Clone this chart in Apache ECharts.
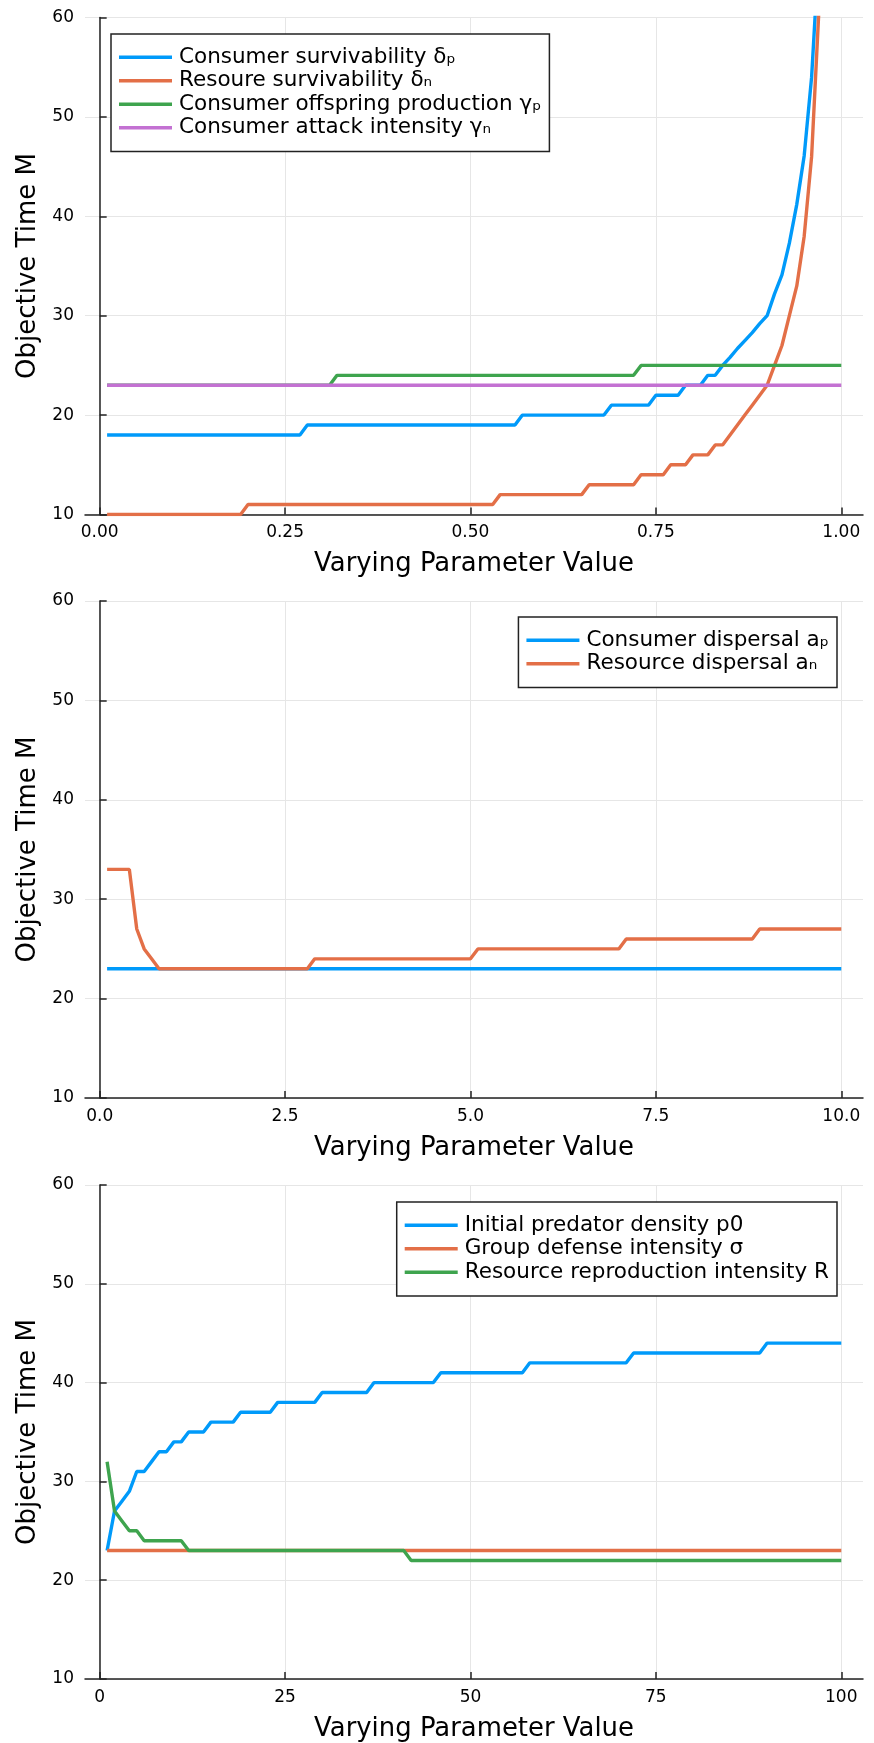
<!DOCTYPE html>
<html>
<head>
<meta charset="utf-8">
<title>Objective time vs varying parameter</title>
<script src="https://cdn.jsdelivr.net/npm/echarts@6/dist/echarts.min.js"></script>
<style>
  html, body { margin: 0; padding: 0; background: #fff; }
  #chart { width: 874px; height: 1743px; }
</style>
</head>
<body>
<div id="chart"></div>
<script>
// ---- panel 1: parameter in [0.01, 1] ----
var p1X = [
  0.01, 0.02, 0.03, 0.04, 0.05, 0.06, 0.07, 0.08, 0.09, 0.10,
  0.11, 0.12, 0.13, 0.14, 0.15, 0.16, 0.17, 0.18, 0.19, 0.20,
  0.21, 0.22, 0.23, 0.24, 0.25, 0.26, 0.27, 0.28, 0.29, 0.30,
  0.31, 0.32, 0.33, 0.34, 0.35, 0.36, 0.37, 0.38, 0.39, 0.40,
  0.41, 0.42, 0.43, 0.44, 0.45, 0.46, 0.47, 0.48, 0.49, 0.50,
  0.51, 0.52, 0.53, 0.54, 0.55, 0.56, 0.57, 0.58, 0.59, 0.60,
  0.61, 0.62, 0.63, 0.64, 0.65, 0.66, 0.67, 0.68, 0.69, 0.70,
  0.71, 0.72, 0.73, 0.74, 0.75, 0.76, 0.77, 0.78, 0.79, 0.80,
  0.81, 0.82, 0.83, 0.84, 0.85, 0.86, 0.87, 0.88, 0.89, 0.90,
  0.91, 0.92, 0.93, 0.94, 0.95, 0.96, 0.97, 0.98, 0.99, 1.00
];
var deltaP = [
  18, 18, 18, 18, 18, 18, 18, 18, 18, 18,
  18, 18, 18, 18, 18, 18, 18, 18, 18, 18,
  18, 18, 18, 18, 18, 18, 18, 19, 19, 19,
  19, 19, 19, 19, 19, 19, 19, 19, 19, 19,
  19, 19, 19, 19, 19, 19, 19, 19, 19, 19,
  19, 19, 19, 19, 19, 19, 20, 20, 20, 20,
  20, 20, 20, 20, 20, 20, 20, 20, 21, 21,
  21, 21, 21, 21, 22, 22, 22, 22, 23, 23,
  23, 24, 24, 25, 25.8, 26.7, 27.5, 28.3, 29.2, 30,
  32.2, 34.1, 37.3, 41.2, 46.1, 54, 67, 90, 140, 300
];
var deltaN = [
  10, 10, 10, 10, 10, 10, 10, 10, 10, 10,
  10, 10, 10, 10, 10, 10, 10, 10, 10, 11,
  11, 11, 11, 11, 11, 11, 11, 11, 11, 11,
  11, 11, 11, 11, 11, 11, 11, 11, 11, 11,
  11, 11, 11, 11, 11, 11, 11, 11, 11, 11,
  11, 11, 11, 12, 12, 12, 12, 12, 12, 12,
  12, 12, 12, 12, 12, 13, 13, 13, 13, 13,
  13, 13, 14, 14, 14, 14, 15, 15, 15, 16,
  16, 16, 17, 17, 18, 19, 20, 21, 22, 23,
  25, 27, 30, 33, 38, 46, 61, 85, 130, 250
];
var gammaP = [
  23, 23, 23, 23, 23, 23, 23, 23, 23, 23,
  23, 23, 23, 23, 23, 23, 23, 23, 23, 23,
  23, 23, 23, 23, 23, 23, 23, 23, 23, 23,
  23, 24, 24, 24, 24, 24, 24, 24, 24, 24,
  24, 24, 24, 24, 24, 24, 24, 24, 24, 24,
  24, 24, 24, 24, 24, 24, 24, 24, 24, 24,
  24, 24, 24, 24, 24, 24, 24, 24, 24, 24,
  24, 24, 25, 25, 25, 25, 25, 25, 25, 25,
  25, 25, 25, 25, 25, 25, 25, 25, 25, 25,
  25, 25, 25, 25, 25, 25, 25, 25, 25, 25
];
var gammaN = [
  23, 23, 23, 23, 23, 23, 23, 23, 23, 23,
  23, 23, 23, 23, 23, 23, 23, 23, 23, 23,
  23, 23, 23, 23, 23, 23, 23, 23, 23, 23,
  23, 23, 23, 23, 23, 23, 23, 23, 23, 23,
  23, 23, 23, 23, 23, 23, 23, 23, 23, 23,
  23, 23, 23, 23, 23, 23, 23, 23, 23, 23,
  23, 23, 23, 23, 23, 23, 23, 23, 23, 23,
  23, 23, 23, 23, 23, 23, 23, 23, 23, 23,
  23, 23, 23, 23, 23, 23, 23, 23, 23, 23,
  23, 23, 23, 23, 23, 23, 23, 23, 23, 23
];
var p1Ticks = [0, 0.25, 0.5, 0.75, 1];

// ---- panel 2: dispersal in [0.1, 10] ----
var p2X = [
  0.1, 0.2, 0.3, 0.4, 0.5, 0.6, 0.7, 0.8, 0.9, 1.0,
  1.1, 1.2, 1.3, 1.4, 1.5, 1.6, 1.7, 1.8, 1.9, 2.0,
  2.1, 2.2, 2.3, 2.4, 2.5, 2.6, 2.7, 2.8, 2.9, 3.0,
  3.1, 3.2, 3.3, 3.4, 3.5, 3.6, 3.7, 3.8, 3.9, 4.0,
  4.1, 4.2, 4.3, 4.4, 4.5, 4.6, 4.7, 4.8, 4.9, 5.0,
  5.1, 5.2, 5.3, 5.4, 5.5, 5.6, 5.7, 5.8, 5.9, 6.0,
  6.1, 6.2, 6.3, 6.4, 6.5, 6.6, 6.7, 6.8, 6.9, 7.0,
  7.1, 7.2, 7.3, 7.4, 7.5, 7.6, 7.7, 7.8, 7.9, 8.0,
  8.1, 8.2, 8.3, 8.4, 8.5, 8.6, 8.7, 8.8, 8.9, 9.0,
  9.1, 9.2, 9.3, 9.4, 9.5, 9.6, 9.7, 9.8, 9.9, 10.0
];
var dispP = [
  23, 23, 23, 23, 23, 23, 23, 23, 23, 23,
  23, 23, 23, 23, 23, 23, 23, 23, 23, 23,
  23, 23, 23, 23, 23, 23, 23, 23, 23, 23,
  23, 23, 23, 23, 23, 23, 23, 23, 23, 23,
  23, 23, 23, 23, 23, 23, 23, 23, 23, 23,
  23, 23, 23, 23, 23, 23, 23, 23, 23, 23,
  23, 23, 23, 23, 23, 23, 23, 23, 23, 23,
  23, 23, 23, 23, 23, 23, 23, 23, 23, 23,
  23, 23, 23, 23, 23, 23, 23, 23, 23, 23,
  23, 23, 23, 23, 23, 23, 23, 23, 23, 23
];
var dispN = [
  33, 33, 33, 33, 27, 25, 24, 23, 23, 23,
  23, 23, 23, 23, 23, 23, 23, 23, 23, 23,
  23, 23, 23, 23, 23, 23, 23, 23, 24, 24,
  24, 24, 24, 24, 24, 24, 24, 24, 24, 24,
  24, 24, 24, 24, 24, 24, 24, 24, 24, 24,
  25, 25, 25, 25, 25, 25, 25, 25, 25, 25,
  25, 25, 25, 25, 25, 25, 25, 25, 25, 25,
  26, 26, 26, 26, 26, 26, 26, 26, 26, 26,
  26, 26, 26, 26, 26, 26, 26, 26, 27, 27,
  27, 27, 27, 27, 27, 27, 27, 27, 27, 27
];
var p2Ticks = [0, 2.5, 5, 7.5, 10];

// ---- panel 3: p0, sigma, R in [1, 100] ----
var p3X = [
  1, 2, 3, 4, 5, 6, 7, 8, 9, 10,
  11, 12, 13, 14, 15, 16, 17, 18, 19, 20,
  21, 22, 23, 24, 25, 26, 27, 28, 29, 30,
  31, 32, 33, 34, 35, 36, 37, 38, 39, 40,
  41, 42, 43, 44, 45, 46, 47, 48, 49, 50,
  51, 52, 53, 54, 55, 56, 57, 58, 59, 60,
  61, 62, 63, 64, 65, 66, 67, 68, 69, 70,
  71, 72, 73, 74, 75, 76, 77, 78, 79, 80,
  81, 82, 83, 84, 85, 86, 87, 88, 89, 90,
  91, 92, 93, 94, 95, 96, 97, 98, 99, 100
];
var initP0 = [
  23, 27, 28, 29, 31, 31, 32, 33, 33, 34,
  34, 35, 35, 35, 36, 36, 36, 36, 37, 37,
  37, 37, 37, 38, 38, 38, 38, 38, 38, 39,
  39, 39, 39, 39, 39, 39, 40, 40, 40, 40,
  40, 40, 40, 40, 40, 41, 41, 41, 41, 41,
  41, 41, 41, 41, 41, 41, 41, 42, 42, 42,
  42, 42, 42, 42, 42, 42, 42, 42, 42, 42,
  42, 43, 43, 43, 43, 43, 43, 43, 43, 43,
  43, 43, 43, 43, 43, 43, 43, 43, 43, 44,
  44, 44, 44, 44, 44, 44, 44, 44, 44, 44
];
var sigmaDef = [
  23, 23, 23, 23, 23, 23, 23, 23, 23, 23,
  23, 23, 23, 23, 23, 23, 23, 23, 23, 23,
  23, 23, 23, 23, 23, 23, 23, 23, 23, 23,
  23, 23, 23, 23, 23, 23, 23, 23, 23, 23,
  23, 23, 23, 23, 23, 23, 23, 23, 23, 23,
  23, 23, 23, 23, 23, 23, 23, 23, 23, 23,
  23, 23, 23, 23, 23, 23, 23, 23, 23, 23,
  23, 23, 23, 23, 23, 23, 23, 23, 23, 23,
  23, 23, 23, 23, 23, 23, 23, 23, 23, 23,
  23, 23, 23, 23, 23, 23, 23, 23, 23, 23
];
var reproR = [
  32, 27, 26, 25, 25, 24, 24, 24, 24, 24,
  24, 23, 23, 23, 23, 23, 23, 23, 23, 23,
  23, 23, 23, 23, 23, 23, 23, 23, 23, 23,
  23, 23, 23, 23, 23, 23, 23, 23, 23, 23,
  23, 22, 22, 22, 22, 22, 22, 22, 22, 22,
  22, 22, 22, 22, 22, 22, 22, 22, 22, 22,
  22, 22, 22, 22, 22, 22, 22, 22, 22, 22,
  22, 22, 22, 22, 22, 22, 22, 22, 22, 22,
  22, 22, 22, 22, 22, 22, 22, 22, 22, 22,
  22, 22, 22, 22, 22, 22, 22, 22, 22, 22
];
var p3Ticks = [0, 25, 50, 75, 100];

var yTicksMin = 10, yTicksMax = 60, yStep = 10;

var FONT = 'DejaVu Sans';
var AXIS = '#222';
var GRIDLINE = '#e6e6e6';
var BLUE = '#009AFA', ORANGE = '#E36F47', GREEN = '#3EA44E', PURPLE = '#C371D2';
var LW = 3.4;

function zip(xs, ys) {
  return xs.map(function (x, i) { return [x, ys[i]]; });
}

function xAxisFor(idx, min, max, ticks, digits) {
  return {
    type: 'value', gridIndex: idx, min: min, max: max,
    name: 'Varying Parameter Value', nameLocation: 'middle', nameGap: 37,
    nameTextStyle: { fontFamily: FONT, fontSize: 25.9, color: '#000' },
    axisLine: { onZero: false, lineStyle: { color: AXIS, width: 1.5 } },
    axisTick: { inside: true, length: 7, customValues: ticks, lineStyle: { color: AXIS, width: 1.5 } },
    axisLabel: {
      customValues: ticks, margin: 10,
      fontFamily: FONT, fontSize: 17, color: '#000',
      formatter: function (v) { return v.toFixed(digits); }
    },
    splitLine: { show: true, lineStyle: { color: GRIDLINE, width: 1 } }
  };
}

function yAxisFor(idx) {
  return {
    type: 'value', gridIndex: idx, min: yTicksMin, max: yTicksMax, interval: yStep,
    name: 'Objective Time M', nameLocation: 'middle', nameGap: 43.5, nameRotate: 90,
    nameTextStyle: { fontFamily: FONT, fontSize: 26, color: '#000' },
    axisLine: { show: true, lineStyle: { color: AXIS, width: 1.5 } },
    axisTick: { show: true, inside: true, length: 7, lineStyle: { color: AXIS, width: 1.5 } },
    axisLabel: { margin: 11, fontFamily: FONT, fontSize: 17, color: '#000' },
    splitLine: { show: true, lineStyle: { color: GRIDLINE, width: 1 } }
  };
}

function lineSeries(name, xs, ys, color, idx) {
  return {
    name: name, type: 'line', xAxisIndex: idx, yAxisIndex: idx,
    data: zip(xs, ys), symbol: 'none', showSymbol: false,
    lineStyle: { color: color, width: LW },
    itemStyle: { color: color },
    animation: false
  };
}

function legendFor(names, pos) {
  return Object.assign({
    data: names, orient: 'vertical', selectedMode: false,
    icon: 'rect', itemWidth: 53, itemHeight: LW, itemGap: 0,
    padding: [11.5, 8, 12, 8],
    backgroundColor: '#fff', borderColor: '#222', borderWidth: 1.5, borderRadius: 0,
    textStyle: { fontFamily: FONT, fontSize: 21.5, color: '#000', lineHeight: 23.5, padding: [0, 0, 0, 2] }
  }, pos);
}

var names1 = ['Consumer survivability δₚ', 'Resoure survivability δₙ', 'Consumer offspring production γₚ', 'Consumer attack intensity γₙ'];
var names2 = ['Consumer dispersal aₚ', 'Resource dispersal aₙ'];
var names3 = ['Initial predator density p0', 'Group defense intensity σ', 'Resource reproduction intensity R'];

var chart = echarts.init(document.getElementById('chart'), null, { renderer: 'canvas' });
chart.setOption({
  backgroundColor: '#fff',
  animation: false,
  grid: [
    { left: 85, right: 11, top: 17.5, height: 497 },
    { left: 85, right: 11, top: 601, height: 497 },
    { left: 85, right: 11, top: 1185, height: 496 }
  ],
  xAxis: [
    xAxisFor(0, -0.0198, 1.0293, p1Ticks, 2),
    xAxisFor(1, -0.198, 10.293, p2Ticks, 1),
    xAxisFor(2, -1.98, 102.93, p3Ticks, 0)
  ],
  yAxis: [yAxisFor(0), yAxisFor(1), yAxisFor(2)],
  legend: [
    legendFor(names1, { left: 111, top: 34 }),
    legendFor(names2, { right: 37, top: 617 }),
    legendFor(names3, { right: 37, top: 1202 })
  ],
  series: [
    lineSeries(names1[0], p1X, deltaP, BLUE, 0),
    lineSeries(names1[1], p1X, deltaN, ORANGE, 0),
    lineSeries(names1[2], p1X, gammaP, GREEN, 0),
    lineSeries(names1[3], p1X, gammaN, PURPLE, 0),
    lineSeries(names2[0], p2X, dispP, BLUE, 1),
    lineSeries(names2[1], p2X, dispN, ORANGE, 1),
    lineSeries(names3[0], p3X, initP0, BLUE, 2),
    lineSeries(names3[1], p3X, sigmaDef, ORANGE, 2),
    lineSeries(names3[2], p3X, reproR, GREEN, 2)
  ]
});
</script>
</body>
</html>
